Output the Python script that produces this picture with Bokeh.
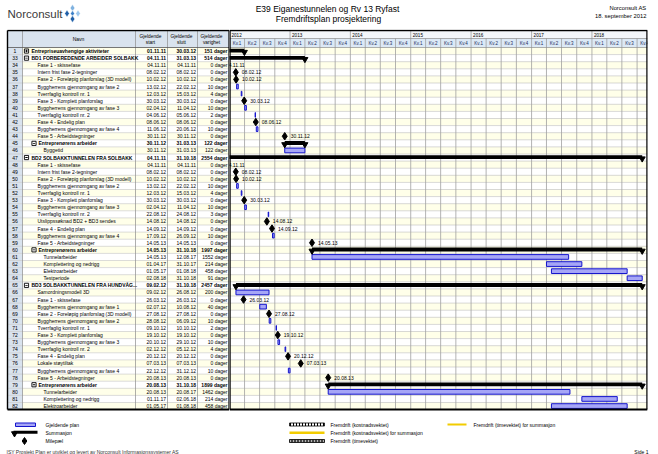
import datetime as dt
from bokeh.plotting import figure
from bokeh.layouts import column, row
from bokeh.models import Range1d, ColumnDataSource
from bokeh.core.properties import value
from bokeh.embed import file_html
from bokeh.resources import INLINE

# ---------------- data ----------------
task_ids = [1, 33, 34, 35, 36, 37, 38, 39, 40, 41, 42, 43, 44, 45, 46,
            47, 48, 49, 50, 51, 52, 53, 54, 55, 56, 57, 58, 59, 60, 61, 62, 63, 64,
            65, 66, 67, 68, 69, 70, 71, 72, 73, 74, 75, 76, 77, 78, 79, 80, 81, 82]
task_names = [
    "Entrepriseuavhengige aktiviteter",
    "BD1 FORBEREDENDE ARBEIDER SOLBAKK",
    "Fase 1 - skissefase",
    "Intern frist fase 2-tegninger",
    "Fase 2 - Foreløpig planforslag (3D modell)",
    "Byggherrens gjennomgang av fase 2",
    "Tverrfaglig kontroll nr. 1",
    "Fase 3 - Komplett planforslag",
    "Byggherrens gjennomgang av fase 3",
    "Tverrfaglig kontroll nr. 2",
    "Fase 4 - Endelig plan",
    "Byggherrens gjennomgang av fase 4",
    "Fase 5 - Arbeidstegninger",
    "Entreprenørens arbeider",
    "Byggetid",
    "BD2 SOLBAKKTUNNELEN FRA SOLBAKK",
    "Fase 1 - skissefase",
    "Intern frist fase 2-tegninger",
    "Fase 2 - Foreløpig planforslag (3D modell)",
    "Byggherrens gjennomgang av fase 2",
    "Tverrfaglig kontroll nr. 1",
    "Fase 3 - Komplett planforslag",
    "Byggherrens gjennomgang av fase 3",
    "Tverrfaglig kontroll nr. 2",
    "Utslippssøknad BD2 + BD3 sendes",
    "Fase 4 - Endelig plan",
    "Byggherrens gjennomgang av fase 4",
    "Fase 5 - Arbeidstegninger",
    "Entreprenørens arbeider",
    "Tunnelarbeider",
    "Komplettering og nedrigg",
    "Elektroarbeider",
    "Testperiode",
    "BD3 SOLBAKKTUNNELEN FRA HUNDVÅG...",
    "Samordningsmodell 3D",
    "Fase 1 - skissefase",
    "Byggherrens gjennomgang av fase 1",
    "Fase 2 - Foreløpig planforslag (3D modell)",
    "Byggherrens gjennomgang av fase 2",
    "Tverrfaglig kontroll nr. 1",
    "Fase 3 - Komplett planforslag",
    "Byggherrens gjennomgang av fase 3",
    "Tverrfaglig kontroll nr. 2",
    "Fase 4 - Endelig plan",
    "Lokale støytiltak",
    "Byggherrens gjennomgang av fase 4",
    "Fase 5 - Arbeidstegninger",
    "Entreprenørens arbeider",
    "Tunnelarbeider",
    "Komplettering og nedrigg",
    "Elektroarbeider",
]
start_dates = [
    "01.11.11", "04.11.11", "04.11.11", "08.02.12", "10.02.12", "13.02.12", "12.03.12",
    "30.03.12", "02.04.12", "04.06.12", "08.06.12", "11.06.12", "30.11.12", "30.11.12",
    "30.11.12",
    "04.11.11", "04.11.11", "08.02.12", "10.02.12", "13.02.12", "12.03.12", "30.03.12",
    "02.04.12", "22.08.12", "14.08.12", "14.09.12", "17.09.12", "14.05.13", "14.05.13",
    "14.05.13", "01.04.17", "01.05.17", "02.08.18",
    "09.02.12", "09.02.12", "26.03.12", "02.07.12", "27.08.12", "28.08.12", "09.10.12",
    "19.10.12", "20.10.12", "02.12.12", "20.12.12", "07.03.13", "22.12.12", "20.08.13",
    "20.08.13", "20.08.13", "01.11.17", "01.05.17",
]
end_dates = [
    "30.03.12", "31.03.13", "04.11.11", "08.02.12", "10.02.12", "22.02.12", "15.03.12",
    "30.03.12", "11.04.12", "05.06.12", "08.06.12", "20.06.12", "30.11.12", "31.03.13",
    "31.03.13",
    "31.10.18", "04.11.11", "08.02.12", "10.02.12", "22.02.12", "15.03.12", "30.03.12",
    "11.04.12", "24.08.12", "14.08.12", "14.09.12", "26.09.12", "14.05.13", "31.10.18",
    "12.08.17", "31.10.17", "01.08.18", "31.10.18",
    "31.10.18", "26.08.12", "26.03.12", "10.08.12", "27.08.12", "06.09.12", "10.10.12",
    "19.10.12", "29.10.12", "05.12.12", "20.12.12", "07.03.13", "31.12.12", "20.08.13",
    "31.10.18", "20.08.17", "02.06.18", "01.08.18",
]
durations = [151, 514, 0, 0, 0, 10, 4, 0, 10, 2, 0, 10, 0, 122, 122,
             2554, 0, 0, 0, 10, 4, 0, 10, 3, 0, 0, 10, 0, 1997, 1552, 214, 458, 91,
             2457, 200, 0, 40, 0, 10, 2, 0, 10, 4, 0, 0, 10, 0, 1899, 1462, 214, 458]
task_types = ["S", "S", "M", "M", "M", "T", "T", "M", "T", "T", "M", "T", "M", "S", "T",
              "S", "M", "M", "M", "T", "T", "M", "T", "T", "M", "M", "T", "M", "S", "T", "T", "T", "T",
              "S", "T", "M", "T", "M", "T", "T", "M", "T", "T", "M", "M", "T", "M", "S", "T", "T", "T"]
outline_levels = [0, 0, 1, 1, 1, 1, 1, 1, 1, 1, 1, 1, 1, 1, 2,
                  0, 1, 1, 1, 1, 1, 1, 1, 1, 1, 1, 1, 1, 1, 2, 2, 2, 2,
                  0, 1, 1, 1, 1, 1, 1, 1, 1, 1, 1, 1, 1, 1, 1, 2, 2, 2]
collapsed = [True] + [False] * 50
years = [2012, 2013, 2014, 2015, 2016, 2017, 2018]
quarter_labels = ["Kv.1", "Kv.2", "Kv.3", "Kv.4"]
col_headers = [("Gjeldende", "start"), ("Gjeldende", "slutt"), ("Gjeldende", "varighet")]

# ---------------- styling ----------------
FONT = value("Liberation Sans")
ROW_H = 7.1
HDR_PX = 17.0
MID_H = 383
HDR_BG = "#D9E3EE"
KV_BG = "#DCE9F6"
CREAM = "#FFFFE9"
GRID = "#A0A0A0"
TASK_FILL = "#A6A6F6"
TASK_LINE = "#1414CC"

n = len(task_ids)
y_edge_top = -0.5 - HDR_PX / ROW_H
y_top = y_edge_top - 1.0 / ROW_H
y_bot = y_top + MID_H / ROW_H
y_last = n - 0.5
y_yr_bottom = y_edge_top + 8.0 / ROW_H


def d(s):
    return dt.datetime.strptime(s, "%d.%m.%y")


def base_fig(w, h, xr, yr, **kw):
    p = figure(width=w, height=h, x_range=xr, y_range=yr, output_backend="svg",
               toolbar_location=None, x_axis_location=None, y_axis_location=None,
               min_border=0, **kw)
    p.grid.grid_line_color = None
    p.outline_line_color = None
    p.background_fill_color = "white"
    p.border_fill_color = "white"
    return p


# ---------------- header ----------------
hdr = base_fig(658, 29, Range1d(0, 658), Range1d(29, 0))
hdr.text(x=[7], y=[13.5], text=["Norconsult"], text_font=FONT, text_font_size="11.5px",
         text_color="#3a3a3a", text_baseline="middle")
hdr.scatter(x=[72, 66.5, 72, 77.5, 72], y=[7.5, 13, 13, 13, 18.5], marker="diamond",
            size=[7, 7, 6, 7, 7], color=["#7FB2E0", "#1F5FA8", "#3C80C8", "#9CC6EC", "#1F5FA8"],
            line_color="white", line_width=0.5)
hdr.text(x=[327], y=[8], text=["E39 Eiganestunnelen og Rv 13 Ryfast"], text_font=FONT,
         text_font_size="8.5px", text_align="center", text_baseline="middle")
hdr.text(x=[328], y=[18.5], text=["Fremdriftsplan prosjektering"], text_font=FONT,
         text_font_size="8.5px", text_align="center", text_baseline="middle")
hdr.text(x=[646, 646], y=[7, 15], text=["Norconsult AS", "18. september 2012"], text_font=FONT,
         text_font_size="5.8px", text_align="right", text_baseline="middle")

# ---------------- table ----------------
yr_rng = Range1d(start=y_bot, end=y_top)
tbl = base_fig(229, MID_H, Range1d(0, 229), yr_rng)
rows_y = list(range(n))
col_x = [7, 22, 135, 167, 197, 229]

tbl.quad(left=[7], right=[229], top=[y_edge_top], bottom=[-0.5], fill_color=HDR_BG, line_color=None)
tbl.quad(left=[22] * n, right=[229] * n, top=[i - 0.5 for i in rows_y], bottom=[i + 0.5 for i in rows_y],
         fill_color=[CREAM if i % 2 == 0 else "#FFFFFF" for i in rows_y], line_color=None)
tbl.quad(left=[7] * n, right=[22] * n, top=[i - 0.5 for i in rows_y], bottom=[i + 0.5 for i in rows_y],
         fill_color=HDR_BG, line_color=None)
tbl.segment(x0=[7] * (n - 1), x1=[229] * (n - 1), y0=[i + 0.5 for i in rows_y[:-1]],
            y1=[i + 0.5 for i in rows_y[:-1]], line_color="#C4C4C4", line_width=0.6)
tbl.segment(x0=col_x[1:5], x1=col_x[1:5], y0=[y_edge_top] * 4, y1=[y_last] * 4,
            line_color="#8C8C8C", line_width=0.7)
tbl.segment(x0=[7], x1=[229], y0=[-0.5], y1=[-0.5], line_color="#555555", line_width=0.8)
# outer border
tbl.segment(x0=[7, 7, 228.6], x1=[229, 7, 228.6], y0=[y_edge_top, y_edge_top, y_edge_top],
            y1=[y_edge_top, y_last, y_last], line_color="black", line_width=1.4)
tbl.segment(x0=[7], x1=[229], y0=[y_last], y1=[y_last], line_color="black", line_width=2)

# header texts
hy1 = y_edge_top + 6.0 / ROW_H
hy2 = y_edge_top + 11.5 / ROW_H
tbl.text(x=[78], y=[(y_edge_top - 0.5) / 2], text=["Navn"], text_font=FONT, text_font_size="5px",
         text_align="center", text_baseline="middle")
hx = [150, 181, 211]
tbl.text(x=hx, y=[hy1] * 3, text=[c[0] for c in col_headers], text_font=FONT, text_font_size="4.8px",
         text_align="center", text_baseline="middle")
tbl.text(x=hx, y=[hy2] * 3, text=[c[1] for c in col_headers], text_font=FONT, text_font_size="4.8px",
         text_align="center", text_baseline="middle")

name_x = []
for lv, tp in zip(outline_levels, task_types):
    if lv == 0:
        name_x.append(31)
    elif lv == 1:
        name_x.append(38 if tp == "S" else 37)
    else:
        name_x.append(43)
fstyle = ["bold" if t == "S" else "normal" for t in task_types]
tsrc = ColumnDataSource(dict(
    y=rows_y, ids=[str(i) for i in task_ids], name=task_names, nx=name_x,
    st=start_dates, en=end_dates, du=[f"{v} dager" for v in durations], fs=fstyle,
))
tk = dict(source=tsrc, text_font=FONT, text_font_size="5px", text_baseline="middle",
          text_font_style="fs")
tbl.text(x=14.5, y="y", text="ids", text_align="center", source=tsrc, text_font=FONT,
         text_font_size="5px", text_baseline="middle")
tbl.text(x="nx", y="y", text="name", text_align="left", **tk)
tbl.text(x=165.5, y="y", text="st", text_align="right", **tk)
tbl.text(x=195.5, y="y", text="en", text_align="right", **tk)
tbl.text(x=227, y="y", text="du", text_align="right", **tk)

# expand/collapse boxes for summary rows
sum_idx = [i for i, t in enumerate(task_types) if t == "S"]
bx = [26 if outline_levels[i] == 0 else 33.5 for i in sum_idx]
tbl.rect(x=bx, y=sum_idx, width=4.2, height=4.2, width_units="screen", height_units="screen",
         fill_color="white", line_color="black", line_width=0.9)
tbl.rect(x=bx, y=sum_idx, width=2.4, height=0.9, width_units="screen", height_units="screen",
         fill_color="black", line_color=None)
col_idx = [i for i in sum_idx if collapsed[i]]
tbl.rect(x=[26 for _ in col_idx], y=col_idx, width=0.9, height=2.4, width_units="screen",
         height_units="screen", fill_color="black", line_color=None)

# ---------------- gantt ----------------
T0 = dt.datetime(years[0], 1, 1)
T_END = dt.datetime(2018, 12, 3)
gnt = base_fig(429, MID_H, Range1d(T0, T_END), yr_rng)
gnt.min_border_right = 11

q_starts = [dt.datetime(y, 3 * q + 1, 1) for y in years for q in range(4)]
q_ends = q_starts[1:] + [dt.datetime(years[-1] + 1, 1, 1)]
q_mid = [a + (b - a) / 2 for a, b in zip(q_starts, q_ends)]
y_starts = [dt.datetime(y, 1, 1) for y in years]

gnt.quad(left=[T0], right=[T_END], top=[y_edge_top], bottom=[y_yr_bottom], fill_color="#F3F6FA", line_color=None)
gnt.quad(left=[T0], right=[T_END], top=[y_yr_bottom], bottom=[-0.5], fill_color=KV_BG, line_color=None)
gnt.quad(left=[T0] * n, right=[T_END] * n, top=[i - 0.5 for i in rows_y], bottom=[i + 0.5 for i in rows_y],
         fill_color=[CREAM if i % 2 == 0 else "#FFFFFF" for i in rows_y], line_color=None)
gnt.segment(x0=[T0] * (n - 1), x1=[T_END] * (n - 1), y0=[i + 0.5 for i in rows_y[:-1]],
            y1=[i + 0.5 for i in rows_y[:-1]], line_color="#BDBDBD", line_width=0.6)
gnt.segment(x0=q_starts, x1=q_starts, y0=[y_edge_top if q.month == 1 else y_yr_bottom for q in q_starts],
            y1=[y_last] * len(q_starts), line_color=GRID, line_width=0.8)
gnt.segment(x0=[T0, T0], x1=[T_END, T_END], y0=[y_yr_bottom, -0.5], y1=[y_yr_bottom, -0.5],
            line_color="#8C8C8C", line_width=0.7)
gnt.text(x=y_starts, y=[(y_edge_top + y_yr_bottom) / 2] * len(years), text=[str(y) for y in years],
         x_offset=2, text_font=FONT, text_font_size="4.6px", text_baseline="middle")
gnt.text(x=q_mid, y=[(y_yr_bottom - 0.5) / 2] * len(q_mid), text=quarter_labels * len(years),
         text_font=FONT, text_font_size="4.5px", text_align="center", text_baseline="middle",
         text_color="#1a2a5a")

# tasks
t_idx = [i for i, t in enumerate(task_types) if t == "T"]
gnt.quad(left=[d(start_dates[i]) for i in t_idx],
         right=[d(end_dates[i]) + dt.timedelta(days=1) for i in t_idx],
         top=[i - 0.33 for i in t_idx], bottom=[i + 0.33 for i in t_idx],
         fill_color=TASK_FILL, line_color=TASK_LINE, line_width=1)
# summaries
s_left = [d(start_dates[i]) for i in sum_idx]
s_right = [d(end_dates[i]) + dt.timedelta(days=1) for i in sum_idx]
gnt.quad(left=s_left, right=s_right, top=[i - 0.32 for i in sum_idx], bottom=[i + 0.22 for i in sum_idx],
         fill_color="black", line_color=None)
gnt.scatter(x=s_left + s_right, y=[i + 0.15 for i in sum_idx] * 2, marker="inverted_triangle",
            size=6, color="black")
# milestones
m_idx = [i for i, t in enumerate(task_types) if t == "M"]
gnt.scatter(x=[d(start_dates[i]) for i in m_idx], y=m_idx, marker="diamond", size=7.5, color="black")
gnt.text(x=[d(start_dates[i]) for i in m_idx], y=m_idx, text=[start_dates[i] for i in m_idx],
         x_offset=6, text_font=FONT, text_font_size="5px", text_baseline="middle")
# borders
gnt.segment(x0=[T0], x1=[T_END], y0=[y_edge_top], y1=[y_edge_top],
            line_color="black", line_width=1.4)
gnt.segment(x0=[T0], x1=[T_END], y0=[y_last], y1=[y_last], line_color="black", line_width=2)
gnt.segment(x0=[T_END, T0], x1=[T_END, T0], y0=[y_edge_top, y_edge_top], y1=[y_last, y_last],
            line_color="black", line_width=2.4)

# ---------------- legend / footer ----------------
leg = base_fig(658, 42, Range1d(0, 658), Range1d(42, 0))
leg.quad(left=[15], right=[35], top=[10.5], bottom=[14], fill_color=TASK_FILL, line_color=TASK_LINE)
leg.quad(left=[13], right=[37], top=[18.3], bottom=[21.3], fill_color="black", line_color=None)
leg.scatter(x=[14, 36], y=[21], marker="inverted_triangle", size=6, color="black")
leg.scatter(x=[24], y=[28.5], marker="diamond", size=7, color="black")
leg.text(x=[45, 45, 45], y=[12, 20, 28.5], text=["Gjeldende plan", "Summasjon", "Milepæl"],
         text_font=FONT, text_font_size="5px", text_baseline="middle")
leg.quad(left=[289], right=[324], top=[10.5], bottom=[13.5], fill_color="white", line_color="black",
         line_width=0.8, hatch_pattern="|", hatch_color="black", hatch_scale=3, hatch_weight=1)
leg.quad(left=[289], right=[324], top=[19], bottom=[21.5], fill_color="#F2CC00", line_color=None)
leg.quad(left=[289], right=[324], top=[27], bottom=[30], fill_color="#444444", line_color="black",
         line_width=0.8, hatch_pattern="|", hatch_color="white", hatch_scale=3, hatch_weight=0.6)
leg.text(x=[330, 330, 330], y=[12, 20, 28.5],
         text=["Fremdrift (kostnadsvektet)", "Fremdrift (kostnadsvektet) for summasjon",
               "Fremdrift (timevektet)"],
         text_font=FONT, text_font_size="5px", text_baseline="middle")
leg.segment(x0=[447], x1=[466], y0=[12], y1=[12], line_color="#F2CC00", line_width=2)
leg.text(x=[473], y=[12], text=["Fremdrift (timevektet) for summasjon"], text_font=FONT,
         text_font_size="5px", text_baseline="middle")
leg.text(x=[6], y=[39], text=["ISY Prosjekt Plan er utviklet og levert av Norconsult Informasjonssystemer AS"],
         text_font=FONT, text_font_size="5px", text_baseline="middle", text_color="#333333")
leg.text(x=[648], y=[39], text=["Side 1"], text_font=FONT, text_font_size="5px",
         text_align="right", text_baseline="middle")

layout = column(hdr, row(tbl, gnt, spacing=0), leg, spacing=0)
open("out.html", "w").write(file_html(layout, INLINE))
